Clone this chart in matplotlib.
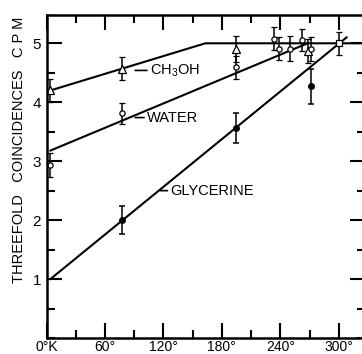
import numpy as np
import matplotlib.pyplot as plt
from matplotlib.ticker import MultipleLocator

plt.rcParams['font.family'] = ['Liberation Sans', 'DejaVu Sans']
plt.rcParams['mathtext.default'] = 'regular'

# measured counting rates (threefold coincidences per minute) vs temperature (K)
ch3oh_T = [4, 77, 194, 268]
ch3oh_cpm = [4.20, 4.57, 4.90, 4.87]
ch3oh_err = [0.20, 0.20, 0.22, 0.20]

water_T = [4, 77, 194, 233, 239, 250, 262, 272]
water_cpm = [2.94, 3.81, 4.59, 5.08, 4.91, 4.91, 5.06, 4.90]
water_err = [0.20, 0.18, 0.19, 0.20, 0.19, 0.21, 0.19, 0.20]

glyc_T = [77, 194, 272]
glyc_cpm = [2.00, 3.56, 4.27]
glyc_err = [0.24, 0.25, 0.30]

room_T = [300]
room_cpm = [5.00]
room_err = [0.20]

# hand-drawn trend lines
ch3oh_line_T = [4, 163, 340]
ch3oh_line = [4.20, 5.00, 5.00]
water_line_T = [4, 268]
water_line = [3.18, 5.00]
glyc_line_T = [4, 308]
glyc_line = [1.00, 5.10]

xtick_vals = [0, 60, 120, 180, 240, 300]
xtick_labels = ['0°K', '60°', '120°', '180°', '240°', '300°']
ytick_vals = [1, 2, 3, 4, 5]

fig = plt.figure(figsize=(3.62, 3.54), dpi=100)
ax = fig.add_axes([0.1285, 0.0452, 0.88, 0.9124])

lw = 1.5
ax.plot(ch3oh_line_T, ch3oh_line, color='black', lw=lw)
ax.plot(water_line_T, water_line, color='black', lw=lw)
ax.plot(glyc_line_T, glyc_line, color='black', lw=lw)

eb = dict(ecolor='black', elinewidth=1.1, capsize=2.5, capthick=1.1, ls='none')
ax.errorbar(ch3oh_T, ch3oh_cpm, yerr=ch3oh_err, marker='^', ms=5.5,
            mfc='white', mec='black', mew=0.9, **eb)
ax.errorbar(water_T, water_cpm, yerr=water_err, marker='o', ms=3.8,
            mfc='white', mec='black', mew=0.9, **eb)
ax.errorbar(glyc_T, glyc_cpm, yerr=glyc_err, marker='o', ms=4,
            mfc='black', mec='black', **eb)
ax.errorbar(room_T, room_cpm, yerr=room_err, marker='s', ms=4.5,
            mfc='white', mec='black', mew=0.9, **eb)

# curve labels with short leaders
lab = dict(fontsize=10.5, va='center', ha='left')
ax.annotate('CH$_3$OH', xy=(91, 4.54), xytext=(106, 4.54),
            arrowprops=dict(arrowstyle='-', lw=1.2, shrinkA=0, shrinkB=0), **lab)
ax.annotate('WATER', xy=(91, 3.74), xytext=(103, 3.74),
            arrowprops=dict(arrowstyle='-', lw=1.2, shrinkA=0, shrinkB=0), **lab)
ax.annotate('GLYCERINE', xy=(117, 2.50), xytext=(127, 2.50),
            arrowprops=dict(arrowstyle='-', lw=1.2, shrinkA=0, shrinkB=0), **lab)

ax.set_xlim(0, 327)
ax.set_ylim(0, 5.48)
ax.set_xticks(xtick_vals)
ax.set_xticklabels(xtick_labels, fontsize=10)
ax.set_yticks(ytick_vals)
ax.set_yticklabels([str(v) for v in ytick_vals], fontsize=11)
ax.xaxis.set_minor_locator(MultipleLocator(30))
ax.yaxis.set_minor_locator(MultipleLocator(0.5))
ax.tick_params(which='both', direction='in', top=True, right=True, width=1.5)
ax.tick_params(which='major', length=11)
ax.tick_params(which='minor', length=6)
ax.tick_params(axis='x', pad=1.5)
ax.tick_params(axis='y', pad=4)
for s in ax.spines.values():
    s.set_linewidth(1.8)

fig.text(19 / 362, 1 - 150 / 354, 'THREEFOLD   COINCIDENCES   C P M',
         rotation=90, ha='center', va='center', fontsize=10.5)

fig.savefig('out.png', dpi=100)
